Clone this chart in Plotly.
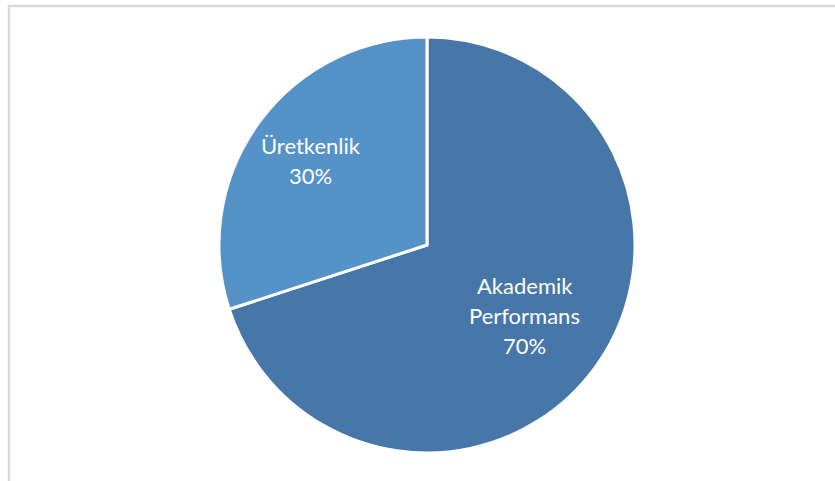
import math
import plotly.graph_objects as go

labels = ["Akademik<br>Performans", "Üretkenlik"]
values = [70, 30]
colors = ["#4677A8", "#5592C8"]
label_radius = [0.58, 0.69]  # fraction of the pie radius where each label block sits

W, H = 835, 481
cx, cy, r = 427, 245, 208
line_gap = 30
font = dict(color="white", size=22, family="Lato")

fig = go.Figure(go.Pie(
    labels=labels,
    values=values,
    sort=False,
    direction="clockwise",
    rotation=0,
    marker=dict(colors=colors, line=dict(color="white", width=3)),
    textinfo="none",
    showlegend=False,
    hoverinfo="label+percent",
    domain=dict(x=[(cx - r) / W, (cx + r) / W], y=[(H - cy - r) / H, (H - cy + r) / H]),
))

# labels placed along each slice's bisector, derived from the data
total = sum(values)
start = 0.0
for lab, val, rf in zip(labels, values, label_radius):
    mid = (start + val / 2) / total * 2 * math.pi
    start += val
    px = cx + rf * r * math.sin(mid)
    py = cy - rf * r * math.cos(mid)
    lines = lab.split("<br>") + [f"{round(100 * val / total)}%"]
    n = len(lines)
    for i, t in enumerate(lines):
        yy = py + (i - (n - 1) / 2) * line_gap
        fig.add_annotation(x=px / W, y=1 - yy / H, xref="paper", yref="paper",
                           text=t, showarrow=False, font=font,
                           xanchor="center", yanchor="middle")

fig.add_shape(type="rect", xref="paper", yref="paper",
              x0=9 / W, x1=1.05, y0=-0.05, y1=(H - 6) / H,
              line=dict(color="#D9D9D9", width=2.5), fillcolor="rgba(0,0,0,0)", layer="below")

fig.update_layout(
    width=W, height=H,
    margin=dict(l=0, r=0, t=0, b=0),
    paper_bgcolor="white", plot_bgcolor="white",
)

fig.write_html("out.html")
